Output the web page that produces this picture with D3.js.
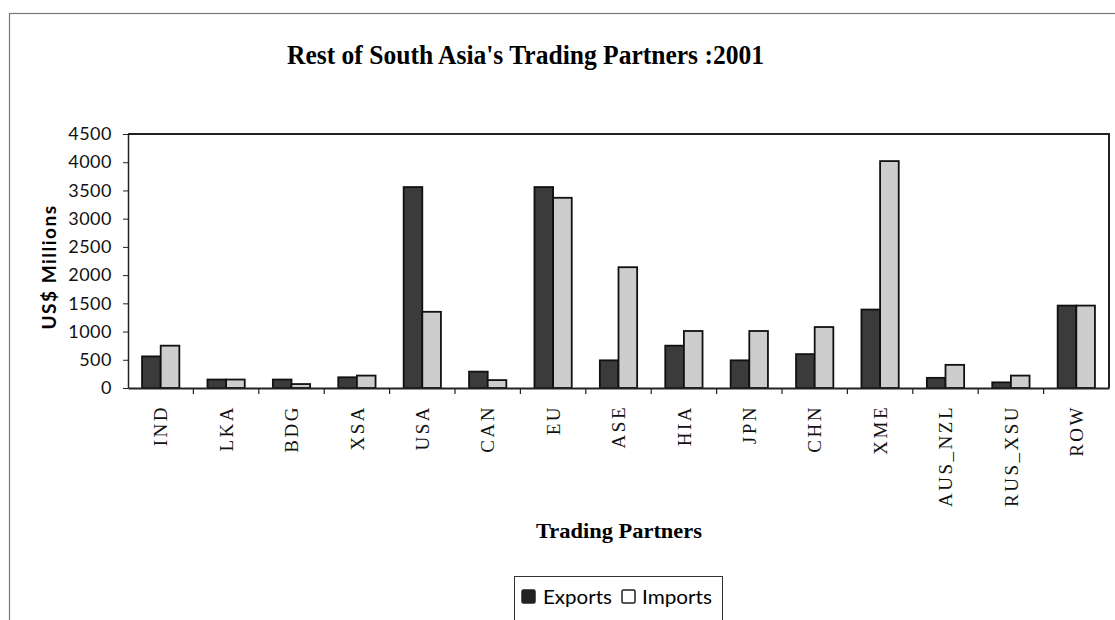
<!DOCTYPE html>
<html>
<head>
<meta charset="utf-8">
<script src="https://cdn.jsdelivr.net/npm/d3@7"></script>
<style>
  body { margin: 0; background: #fff; }
  svg { display: block; }
</style>
</head>
<body>
<div id="chart"></div>
<script>
'use strict'

const WIDTH = 1115
const HEIGHT = 620

// data
const partners = ['IND', 'LKA', 'BDG', 'XSA', 'USA', 'CAN', 'EU', 'ASE', 'HIA', 'JPN', 'CHN', 'XME', 'AUS_NZL', 'RUS_XSU', 'ROW']
const exportsValues = [560, 150, 150, 190, 3560, 290, 3560, 490, 750, 490, 600, 1390, 180, 100, 1460]
const importsValues = [750, 150, 70, 220, 1350, 140, 3370, 2140, 1010, 1010, 1080, 4020, 410, 220, 1460]
const seriesNames = ['Exports', 'Imports']
const yTicks = [0, 500, 1000, 1500, 2000, 2500, 3000, 3500, 4000, 4500]

const seriesColors = ['#3b3b3b', '#cdcdcd']
const serif = '"Liberation Serif", "Times New Roman", serif'
const sans = 'Lato, "Open Sans", sans-serif'

const margin = { left: 128, right: 6, top: 134, bottom: 232 }
const plotW = WIDTH - margin.left - margin.right
const plotH = HEIGHT - margin.top - margin.bottom

const svg = d3.select('#chart')
  .append('svg')
  .attr('width', WIDTH)
  .attr('height', HEIGHT)

// outer chart frame
svg.append('rect')
  .attr('x', 9.5)
  .attr('y', 13.5)
  .attr('width', WIDTH + 20)
  .attr('height', HEIGHT + 20)
  .attr('fill', 'none')
  .attr('stroke', '#777')
  .attr('stroke-width', 1.2)

svg.append('text')
  .attr('x', 287)
  .attr('y', 64)
  .attr('textLength', 477)
  .attr('lengthAdjust', 'spacingAndGlyphs')
  .style('font-family', serif)
  .style('font-weight', 'bold')
  .style('font-size', '28px')
  .text("Rest of South Asia's Trading Partners :2001")

const g = svg.append('g')
  .attr('transform', `translate(${margin.left},${margin.top})`)

const x = d3.scaleBand().domain(partners).range([0, plotW])
const xSub = d3.scaleBand()
  .domain(seriesNames)
  .range([x.bandwidth() * 0.215, x.bandwidth() * 0.785])
const y = d3.scaleLinear().domain([0, 4500]).range([plotH, 0])

// plot area border (top and right)
g.append('path')
  .attr('d', `M0,0H${plotW}V${plotH}`)
  .attr('fill', 'none')
  .attr('stroke', '#222')
  .attr('stroke-width', 2)

const rows = partners.map((p, i) => ({ name: p, values: [exportsValues[i], importsValues[i]] }))

const groups = g.selectAll('.grp')
  .data(rows)
  .enter()
  .append('g')
  .attr('class', 'grp')
  .attr('transform', (d) => `translate(${x(d.name)},0)`)

groups.selectAll('rect')
  .data((d) => d.values.map((v, i) => ({ key: seriesNames[i], value: v, idx: i })))
  .enter()
  .append('rect')
  .attr('x', (d) => xSub(d.key))
  .attr('width', xSub.bandwidth())
  .attr('y', (d) => y(d.value))
  .attr('height', (d) => plotH - y(d.value))
  .attr('fill', (d) => seriesColors[d.idx])
  .attr('stroke', '#111')
  .attr('stroke-width', 1.8)

// y axis
const yAxis = g.append('g')
  .call(d3.axisLeft(y).tickValues(yTicks).tickFormat(d3.format('d')).tickSize(5).tickSizeOuter(0))
yAxis.select('.domain').attr('stroke', '#222').attr('stroke-width', 1.5)
yAxis.selectAll('line').attr('stroke', '#222')
yAxis.selectAll('text')
  .attr('x', -16)
  .style('font-family', sans)
  .style('font-size', '18px')
  .style('letter-spacing', '0.5px')
  .attr('fill', '#111')

// x axis
const xAxis = g.append('g')
  .attr('transform', `translate(0,${plotH})`)
  .call(d3.axisBottom(x).tickSize(0).tickSizeOuter(0))
xAxis.select('.domain').attr('stroke', '#222').attr('stroke-width', 2)
xAxis.selectAll('text')
  .attr('transform', 'rotate(-90)')
  .attr('text-anchor', 'end')
  .attr('x', -17)
  .attr('y', 0)
  .attr('dy', '0.35em')
  .style('font-family', serif)
  .style('font-size', '19px')
  .style('letter-spacing', '2.5px')
  .attr('fill', '#111')

// tick marks between categories
g.append('g')
  .selectAll('line')
  .data(partners.slice(1))
  .enter()
  .append('line')
  .attr('x1', (d) => x(d))
  .attr('x2', (d) => x(d))
  .attr('y1', plotH)
  .attr('y2', plotH + 6)
  .attr('stroke', '#222')
  .attr('stroke-width', 1.2)

svg.append('text')
  .attr('transform', 'translate(56,267) rotate(-90)')
  .attr('text-anchor', 'middle')
  .style('font-family', sans)
  .style('font-weight', 'bold')
  .style('font-size', '19px')
  .style('letter-spacing', '1.5px')
  .text('US$ Millions')

svg.append('text')
  .attr('x', 536)
  .attr('y', 538)
  .attr('textLength', 166)
  .attr('lengthAdjust', 'spacingAndGlyphs')
  .style('font-family', serif)
  .style('font-weight', 'bold')
  .style('font-size', '21px')
  .text('Trading Partners')

// legend
const legend = svg.append('g').attr('transform', 'translate(514,576)')
legend.append('rect')
  .attr('x', 0.5)
  .attr('y', 0.5)
  .attr('width', 208)
  .attr('height', 50)
  .attr('fill', '#fff')
  .attr('stroke', '#333')

const items = [
  { name: seriesNames[0], color: '#222', x: 8, tx: 29, w: 69 },
  { name: seriesNames[1], color: '#fff', x: 108, tx: 128, w: 70 }
]
items.forEach((it) => {
  legend.append('rect')
    .attr('x', it.x)
    .attr('y', 14)
    .attr('width', 13)
    .attr('height', 13)
    .attr('rx', 1.5)
    .attr('fill', it.color)
    .attr('stroke', '#222')
    .attr('stroke-width', 1.5)
  legend.append('text')
    .attr('x', it.tx)
    .attr('y', 28)
    .attr('textLength', it.w)
    .attr('lengthAdjust', 'spacingAndGlyphs')
    .style('font-family', sans)
    .style('font-size', '19px')
    .text(it.name)
})
</script>
</body>
</html>
